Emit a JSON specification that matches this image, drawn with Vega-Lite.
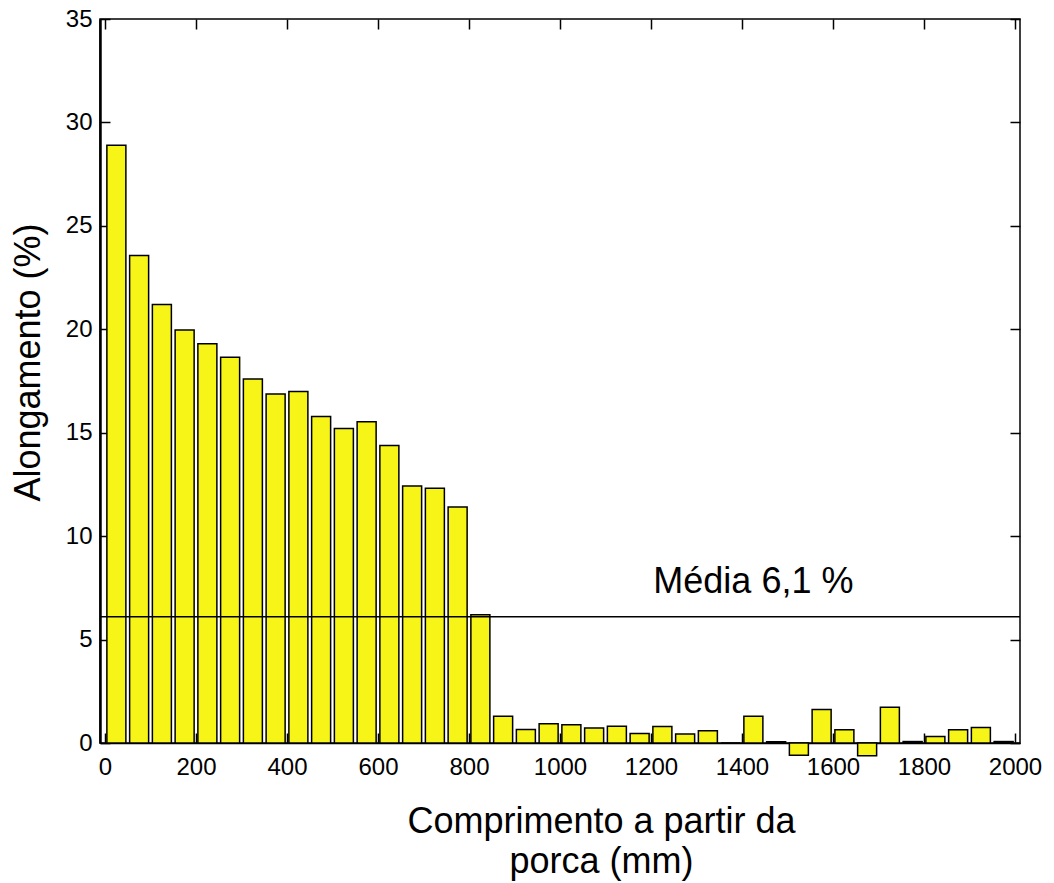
{
  "$schema": "https://vega.github.io/schema/vega-lite/v6.json",
  "width": 920,
  "height": 724,
  "autosize": "none",
  "padding": {"left": 100, "top": 19, "right": 34, "bottom": 140},
  "background": "white",
  "config": {
    "font": "Liberation Sans",
    "view": {"stroke": "black", "strokeWidth": 1.5},
    "axis": {
      "grid": false,
      "domainColor": "black",
      "tickColor": "black",
      "labelColor": "black",
      "titleColor": "black",
      "labelFont": "Liberation Sans",
      "titleFont": "Liberation Sans",
      "labelFontSize": 24,
      "titleFontSize": 36,
      "titleFontWeight": "normal",
      "tickSize": -10,
      "tickWidth": 1.5
    }
  },
  "datasets": {
    "barras": [
      {"comprimento": 25, "alongamento": 28.9},
      {"comprimento": 75, "alongamento": 23.57},
      {"comprimento": 125, "alongamento": 21.2},
      {"comprimento": 175, "alongamento": 19.97},
      {"comprimento": 225, "alongamento": 19.3},
      {"comprimento": 275, "alongamento": 18.65},
      {"comprimento": 325, "alongamento": 17.6},
      {"comprimento": 375, "alongamento": 16.87},
      {"comprimento": 425, "alongamento": 16.99},
      {"comprimento": 475, "alongamento": 15.78},
      {"comprimento": 525, "alongamento": 15.2},
      {"comprimento": 575, "alongamento": 15.53},
      {"comprimento": 625, "alongamento": 14.38},
      {"comprimento": 675, "alongamento": 12.43},
      {"comprimento": 725, "alongamento": 12.32},
      {"comprimento": 775, "alongamento": 11.41},
      {"comprimento": 825, "alongamento": 6.2},
      {"comprimento": 875, "alongamento": 1.29},
      {"comprimento": 925, "alongamento": 0.65},
      {"comprimento": 975, "alongamento": 0.93},
      {"comprimento": 1025, "alongamento": 0.88},
      {"comprimento": 1075, "alongamento": 0.73},
      {"comprimento": 1125, "alongamento": 0.81},
      {"comprimento": 1175, "alongamento": 0.46},
      {"comprimento": 1225, "alongamento": 0.8},
      {"comprimento": 1275, "alongamento": 0.43},
      {"comprimento": 1325, "alongamento": 0.59},
      {"comprimento": 1375, "alongamento": 0},
      {"comprimento": 1425, "alongamento": 1.29},
      {"comprimento": 1475, "alongamento": 0.06},
      {"comprimento": 1525, "alongamento": -0.59},
      {"comprimento": 1575, "alongamento": 1.62},
      {"comprimento": 1625, "alongamento": 0.64},
      {"comprimento": 1675, "alongamento": -0.62},
      {"comprimento": 1725, "alongamento": 1.73},
      {"comprimento": 1775, "alongamento": 0.07},
      {"comprimento": 1825, "alongamento": 0.31},
      {"comprimento": 1875, "alongamento": 0.64},
      {"comprimento": 1925, "alongamento": 0.75},
      {"comprimento": 1975, "alongamento": 0.07}
    ],
    "media": [
      {"media": 6.1, "rotulo": "Média 6,1 %"}
    ]
  },
  "layer": [
    {
      "data": {"name": "barras"},
      "mark": {"type": "bar", "size": 19, "fill": "#f7f417", "stroke": "black", "strokeWidth": 1.5, "clip": false},
      "encoding": {
        "x": {
          "field": "comprimento",
          "type": "quantitative",
          "scale": {"domain": [0, 2000], "nice": false, "zero": false},
          "axis": {
            "orient": "bottom",
            "values": [0, 200, 400, 600, 800, 1000, 1200, 1400, 1600, 1800, 2000],
            "format": "d",
            "labelPadding": 22,
            "labelFlush": false,
            "domainWidth": 1.5,
            "title": ["Comprimento a partir da", "porca (mm)"],
            "titleX": 501,
            "titleY": 89,
            "titleBaseline": "alphabetic",
            "titleLineHeight": 40
          }
        },
        "y": {
          "field": "alongamento",
          "type": "quantitative",
          "scale": {"domain": [0, 35], "nice": false, "zero": false},
          "axis": {
            "orient": "left",
            "values": [0, 5, 10, 15, 20, 25, 30, 35],
            "format": "d",
            "labelPadding": 18,
            "labelFlush": false,
            "domainWidth": 2.5,
            "title": "Alongamento (%)",
            "titleX": -72,
            "titleY": 343,
            "titleBaseline": "middle",
            "titleAlign": "center",
            "titleAngle": -90
          }
        }
      }
    },
    {
      "data": {"name": "media"},
      "mark": {"type": "rule", "stroke": "black", "strokeWidth": 1.5},
      "encoding": {
        "y": {"field": "media", "type": "quantitative", "axis": null}
      }
    },
    {
      "data": {"name": "media"},
      "mark": {"type": "text", "fontSize": 36, "font": "Liberation Sans", "color": "black", "align": "center", "baseline": "alphabetic", "dy": -24},
      "encoding": {
        "text": {"field": "rotulo"},
        "x": {
          "datum": 1425,
          "type": "quantitative",
          "axis": {"orient": "top", "values": [0, 200, 400, 600, 800, 1000, 1200, 1400, 1600, 1800, 2000], "labels": false, "domain": false, "title": null}
        },
        "y": {
          "field": "media",
          "type": "quantitative",
          "axis": {"orient": "right", "values": [0, 5, 10, 15, 20, 25, 30, 35], "labels": false, "domain": false, "title": null}
        }
      }
    }
  ],
  "resolve": {"axis": {"x": "independent", "y": "independent"}}
}
